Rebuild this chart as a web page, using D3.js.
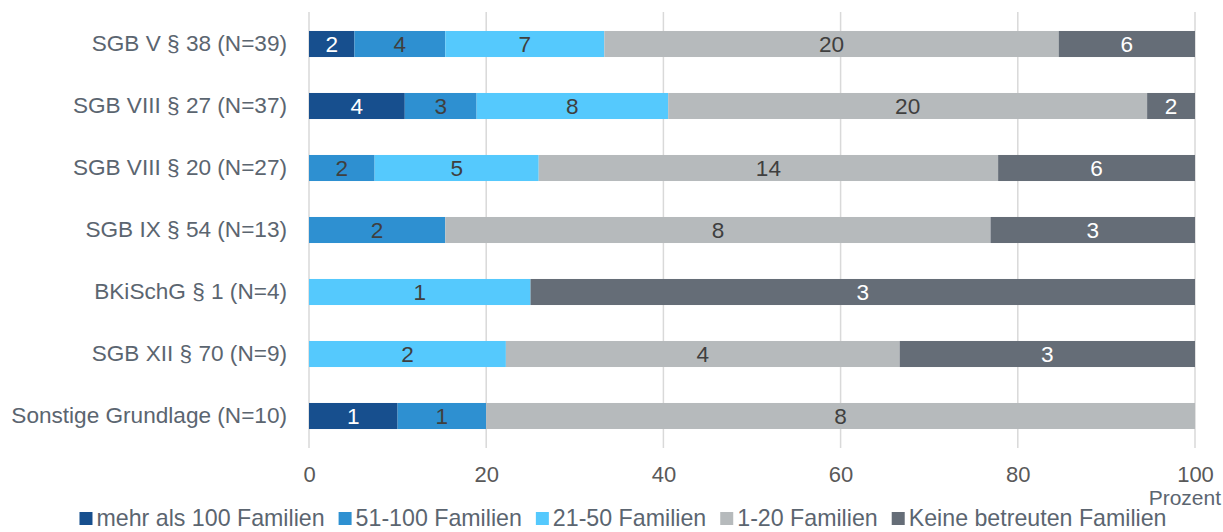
<!DOCTYPE html>
<html>
<head>
<meta charset="utf-8">
<script src="https://cdn.jsdelivr.net/npm/d3@7/dist/d3.min.js"></script>
<style>
  html, body { margin: 0; padding: 0; background: #fff; }
  svg { display: block; font-family: "Liberation Sans", Arial, sans-serif; }
</style>
</head>
<body>
<svg id="chart" width="1223" height="532"></svg>
<script>
// Rechtsgrundlagen (rows, top to bottom)
const categories = [
  "SGB V § 38 (N=39)",
  "SGB VIII § 27 (N=37)",
  "SGB VIII § 20 (N=27)",
  "SGB IX § 54 (N=13)",
  "BKiSchG § 1 (N=4)",
  "SGB XII § 70 (N=9)",
  "Sonstige Grundlage (N=10)"
];
const totals = [39, 37, 27, 13, 4, 9, 10];

// Number of Träger per family-count class
const seriesNames = [
  "mehr als 100 Familien",
  "51-100 Familien",
  "21-50 Familien",
  "1-20 Familien",
  "Keine betreuten Familien"
];
const mehrAls100 = [2, 4, 0, 0, 0, 0, 1];
const f51bis100  = [4, 3, 2, 2, 0, 0, 1];
const f21bis50   = [7, 8, 5, 0, 1, 2, 0];
const f1bis20    = [20, 20, 14, 8, 0, 4, 8];
const keine      = [6, 2, 6, 3, 3, 3, 0];
const seriesValues = [mehrAls100, f51bis100, f21bis50, f1bis20, keine];

const xTicks = [0, 20, 40, 60, 80, 100];

const colors = ["#174f8e", "#2e90d1", "#55c9fd", "#b6babc", "#656d77"];
const labelColors = ["#ffffff", "#3f3f3f", "#3f3f3f", "#3f3f3f", "#ffffff"];

const svg = d3.select("#chart");
const margin = { left: 309, right: 28, top: 13, bottom: 85 };
const W = 1223, H = 532;
const FS = 22.6;

const x = d3.scaleLinear().domain([0, 100]).range([margin.left, W - margin.right]);
const y = d3.scaleBand().domain(categories).range([margin.top, H - margin.bottom])
  .paddingInner(0.58).paddingOuter(0.29);

// Vertical gridlines
svg.append("g").selectAll("line").data(xTicks).join("line")
  .attr("x1", d => x(d)).attr("x2", d => x(d))
  .attr("y1", margin.top - 1).attr("y2", H - margin.bottom + 1)
  .attr("stroke", "#d9d9d9").attr("stroke-width", 1.5);

// Stack the percentages per row
const rows = categories.map((c, i) => {
  let acc = 0;
  return seriesValues.map((vals, s) => {
    const v = vals[i];
    const pct = v / totals[i] * 100;
    const seg = { cat: c, s, v, x0: acc, x1: acc + pct };
    acc += pct;
    return seg;
  });
}).flat();

svg.append("g").selectAll("rect").data(rows.filter(d => d.v > 0)).join("rect")
  .attr("x", d => x(d.x0)).attr("width", d => x(d.x1) - x(d.x0))
  .attr("y", d => y(d.cat)).attr("height", y.bandwidth())
  .attr("fill", d => colors[d.s]);

svg.append("g").selectAll("text").data(rows.filter(d => d.v > 0)).join("text")
  .attr("x", d => (x(d.x0) + x(d.x1)) / 2)
  .attr("y", d => y(d.cat) + y.bandwidth() / 2)
  .attr("dy", "0.36em").attr("text-anchor", "middle")
  .attr("font-size", FS).attr("fill", d => labelColors[d.s])
  .text(d => d.v);

// Category labels
const yAxis = svg.append("g").attr("transform", `translate(${margin.left - 22},0)`)
  .call(d3.axisLeft(y).tickSize(0).tickPadding(0));
yAxis.select(".domain").remove();
yAxis.selectAll("text").attr("font-size", FS).attr("fill", "#5b6570")
  .attr("font-family", "Liberation Sans, Arial, sans-serif");

// X axis tick labels
const xAxis = svg.append("g").attr("transform", `translate(0,${H - margin.bottom})`)
  .call(d3.axisBottom(x).tickValues(xTicks).tickSize(0).tickPadding(19));
xAxis.select(".domain").remove();
xAxis.selectAll("text").attr("font-size", 22).attr("fill", "#595959")
  .attr("dy", null).attr("y", 35)
  .attr("font-family", "Liberation Sans, Arial, sans-serif");

svg.append("text").attr("x", W - 2).attr("y", 505).attr("text-anchor", "end")
  .attr("font-size", 21).attr("fill", "#5b6570").text("Prozent");

// Legend
const LFS = 23.2;
const legend = svg.append("g");
let lx = 0;
seriesNames.forEach((n, i) => {
  const g = legend.append("g");
  g.append("rect").attr("x", 0).attr("y", -14).attr("width", 13).attr("height", 13).attr("fill", colors[i]);
  const t = g.append("text").attr("x", 17).attr("y", 0).attr("font-size", LFS)
    .attr("fill", "#5b6570").text(n);
  const w = 17 + t.node().getComputedTextLength();
  g.attr("transform", `translate(${lx},0)`);
  lx += w + 14;
});
const legendW = lx - 14;
legend.attr("transform", `translate(${623 - legendW / 2},526)`);
</script>
</body>
</html>
